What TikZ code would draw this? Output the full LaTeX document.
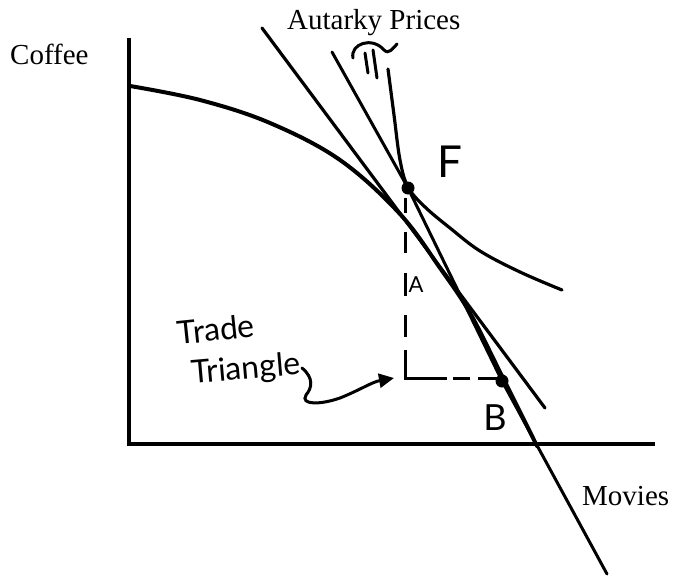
\documentclass[tikz,border=0pt]{standalone}
\usepackage{fontspec}
\setmainfont{Liberation Serif}
\newfontfamily\hand{Lato}
\usetikzlibrary{arrows.meta}
\begin{document}
\begin{tikzpicture}[x=1pt,y=-1pt,
  axis/.style={line width=4.5pt},
  curve/.style={line width=4pt, line cap=round},
  priceline/.style={line width=3.2pt, line cap=round},
  dashseg/.style={line width=3pt},
  lbl/.style={font=\fontsize{29}{31}\selectfont, inner sep=0pt, anchor=base west},
  hw/.style={font=\hand\fontsize{32}{34}\selectfont, inner sep=0pt},
  dot/.style={circle, fill=black, inner sep=0pt, minimum size=13pt}]
\useasboundingbox (0,0) rectangle (675,578);
% axes
\coordinate (O) at (129,444);
\coordinate (Ytop) at (129,38);
\coordinate (Xend) at (655,444);
\draw[axis] (Ytop) -- (O) -- (Xend);
% labels
\node[lbl] (coffee) at (10,65) {Coffee};
\node[lbl] (autarky) at (287,30) {Autarky Prices};
\node[lbl] (movies) at (582,505) {Movies};
% key points
\coordinate (F) at (408,188);
\coordinate (B) at (502,381);
\coordinate (C) at (405,378);
% PPF
\draw[curve] plot[smooth, tension=0.6] coordinates {(130,86) (200,100) (270,123) (340,160) (400,214) (440,268) (470,313) (500,372) (537,446)};
% autarky price line
\coordinate (L1a) at (262,28);
\coordinate (L1b) at (545,408);
\draw[priceline] (L1a) -- (L1b);
% world price line
\coordinate (L2a) at (332,52);
\coordinate (L2b) at (607,574);
\draw[priceline, line width=3pt, line join=round] (L2a) -- (F) -- (B) -- (L2b);
% indifference curve
\draw[curve, line width=3.2pt] plot[smooth, tension=0.6] coordinates {(388,69) (394,115) (400,160) (408,187) (425,207) (450,228) (480,251) (520,272) (562,290)};
% dots
\node[dot] (Fdot) at (F) {};
\node[dot] (Bdot) at (B) {};
% trade triangle (dashed)
\foreach \a/\b in {198/213, 232/253, 273/296, 315/337}
  \draw[dashseg] (405,\a) -- (405,\b);
\draw[dashseg] (405,350) -- (C) -- (447,378);
\foreach \a/\b in {453/470, 478/500}
  \draw[dashseg] (\a,378) -- (\b,378);
% handwritten labels
\node[hw, font=\hand\fontsize{44}{46}\selectfont] (Flbl) at (450,162) {F};
\node[hw, font=\hand\fontsize{36}{38}\selectfont] (Blbl) at (495,418) {B};
\node[hw, font=\hand\fontsize{22}{24}\selectfont] (Albl) at (416,285) {A};
\node[hw, rotate=6] (trade) at (216,329) {Trade};
\node[hw, rotate=5] (triangle) at (246,370) {Triangle};
% arrow to the trade triangle
\coordinate (arrS) at (302,368);
\draw[line width=3pt, line cap=round, -{Triangle[length=15pt,width=14pt]}]
  (arrS) .. controls (314,378) and (312,388) .. (306,395)
  .. controls (300,405) and (320,405) .. (340,398)
  .. controls (360,390) and (372,382) .. ([xshift=-11pt]C);
% marks under the label
\draw[line width=3pt, line cap=round] (353,58) .. controls (350,44) and (372,36) .. (384,50)
  .. controls (389,55) and (393,48) .. (397,44);
\draw[line width=3pt, line cap=round] (365,53) -- (368,73);
\draw[line width=3pt, line cap=round] (373,50) -- (377,78);
\end{tikzpicture}
\end{document}
